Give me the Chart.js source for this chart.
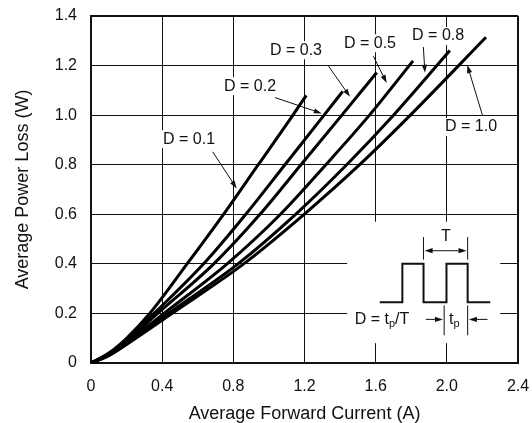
<!DOCTYPE html>
<html>
<head>
<meta charset="utf-8">
<script src="https://cdn.jsdelivr.net/npm/chart.js@4.4.1/dist/chart.umd.min.js"></script>
<style>
  html, body { margin: 0; padding: 0; background: #fff; }
  #wrap { width: 532px; height: 423px; }
</style>
</head>
<body>
<div id="wrap"><canvas id="lossChart" width="532" height="423"></canvas></div>
<script>
// Values (current in A, loss in W)
const dutyLabels = ['D = 0.1', 'D = 0.2', 'D = 0.3', 'D = 0.5', 'D = 0.8', 'D = 1.0'];

const currentD01 = [0, 0.1, 0.2, 0.33, 0.54, 0.745, 0.94, 1.135, 1.21];
const lossD01    = [0, 0.04, 0.1, 0.2, 0.4, 0.6, 0.8, 1.0, 1.08];

const currentD02 = [0, 0.1, 0.2, 0.355, 0.633, 0.87, 1.09, 1.31, 1.415];
const lossD02    = [0, 0.037, 0.093, 0.2, 0.4, 0.6, 0.8, 1.0, 1.096];

const currentD03 = [0, 0.1, 0.2, 0.375, 0.69, 0.95, 1.18, 1.41, 1.606];
const lossD03    = [0, 0.034, 0.088, 0.2, 0.4, 0.6, 0.8, 1.0, 1.172];

const currentD05 = [0, 0.1, 0.2, 0.41, 0.765, 1.065, 1.32, 1.565, 1.81];
const lossD05    = [0, 0.032, 0.082, 0.2, 0.4, 0.6, 0.8, 1.0, 1.219];

const currentD08 = [0, 0.1, 0.2, 0.435, 0.826, 1.15, 1.437, 1.70, 2.017];
const lossD08    = [0, 0.031, 0.078, 0.2, 0.4, 0.6, 0.8, 1.0, 1.261];

const currentD10 = [0, 0.1, 0.2, 0.455, 0.858, 1.198, 1.51, 1.795, 2.22];
const lossD10    = [0, 0.03, 0.075, 0.2, 0.4, 0.6, 0.8, 1.0, 1.314];

const xTickLabels = ['0', '0.4', '0.8', '1.2', '1.6', '2.0', '2.4'];
const yTickLabels = ['0', '0.2', '0.4', '0.6', '0.8', '1.0', '1.2', '1.4'];

const currents = [currentD01, currentD02, currentD03, currentD05, currentD08, currentD10];
const losses = [lossD01, lossD02, lossD03, lossD05, lossD08, lossD10];

const FONT = "'Liberation Sans', Arial, Helvetica, sans-serif";
Chart.defaults.font.family = FONT;
Chart.defaults.color = '#111';

function toPoints(xs, ys) {
  return xs.map((x, i) => ({ x: x, y: ys[i] }));
}

// arrow from (x1,y1) to tip (x2,y2), pixels
function arrow(ctx, x1, y1, x2, y2) {
  const a = Math.atan2(y2 - y1, x2 - x1);
  const len = 8, half = 2.6;
  ctx.beginPath();
  ctx.moveTo(x1, y1);
  ctx.lineTo(x2 - Math.cos(a) * len * 0.8, y2 - Math.sin(a) * len * 0.8);
  ctx.stroke();
  ctx.beginPath();
  ctx.moveTo(x2, y2);
  ctx.lineTo(x2 - Math.cos(a) * len - Math.sin(a) * half, y2 - Math.sin(a) * len + Math.cos(a) * half);
  ctx.lineTo(x2 - Math.cos(a) * len + Math.sin(a) * half, y2 - Math.sin(a) * len - Math.cos(a) * half);
  ctx.closePath();
  ctx.fill();
}

// text with a "p" subscript: parts = [[text, isSub], ...]
function subText(ctx, x, y, parts) {
  let cx = x;
  parts.forEach(p => {
    ctx.font = (p[1] ? '11px ' : '16px ') + FONT;
    ctx.fillText(p[0], cx, p[1] ? y + 5 : y);
    cx += ctx.measureText(p[0]).width;
  });
  return cx;
}

const notesPlugin = {
  id: 'notes',
  beforeDatasetsDraw(chart) {
    const ctx = chart.ctx;
    const px = v => chart.scales.x.getPixelForValue(v);
    const py = v => chart.scales.y.getPixelForValue(v);
    ctx.save();

    // curve labels with leader arrows
    const notes = [
      { cx: 0.551, cy: 0.903, ax: 0.684, ay: 0.852, tx: 0.819, ty: 0.704 },
      { cx: 0.894, cy: 1.117, ax: 1.034, ay: 1.071, tx: 1.297, ty: 1.007 },
      { cx: 1.152, cy: 1.262, ax: 1.334, ay: 1.199, tx: 1.456, ty: 1.074 },
      { cx: 1.568, cy: 1.290, ax: 1.587, ay: 1.238, tx: 1.662, ty: 1.130 },
      { cx: 1.951, cy: 1.319, ax: 1.868, ay: 1.275, tx: 1.877, ty: 1.171 },
      { cx: 2.136, cy: 0.952, ax: 2.200, ay: 1.000, tx: 2.115, ty: 1.202 }
    ];
    ctx.font = '16px ' + FONT;
    ctx.textAlign = 'center';
    ctx.textBaseline = 'middle';
    notes.forEach((n, i) => {
      const w = ctx.measureText(dutyLabels[i]).width;
      ctx.fillStyle = '#fff';
      ctx.fillRect(px(n.cx) - w / 2 - 3, py(n.cy) - 9, w + 6, 18);
      ctx.fillStyle = '#111';
      ctx.fillText(dutyLabels[i], px(n.cx), py(n.cy));
    });
    ctx.strokeStyle = '#111';
    ctx.fillStyle = '#111';
    ctx.lineWidth = 1;
    notes.forEach(n => arrow(ctx, px(n.ax), py(n.ay), px(n.tx), py(n.ty)));

    // pulse-train inset
    ctx.fillStyle = '#fff';
    ctx.fillRect(px(1.44), py(0.57), px(2.30) - px(1.44), py(0.08) - py(0.57));

    ctx.strokeStyle = '#111';
    ctx.fillStyle = '#111';
    ctx.lineWidth = 2;
    const lo = py(0.245), hi = py(0.4);
    ctx.beginPath();
    ctx.moveTo(px(1.623), lo);
    ctx.lineTo(px(1.75), lo); ctx.lineTo(px(1.75), hi);
    ctx.lineTo(px(1.869), hi); ctx.lineTo(px(1.869), lo);
    ctx.lineTo(px(1.998), lo); ctx.lineTo(px(1.998), hi);
    ctx.lineTo(px(2.117), hi); ctx.lineTo(px(2.117), lo);
    ctx.lineTo(px(2.244), lo);
    ctx.stroke();

    // period marker
    ctx.lineWidth = 1;
    [1.869, 2.117].forEach(v => {
      ctx.beginPath();
      ctx.moveTo(px(v), py(0.508));
      ctx.lineTo(px(v), py(0.417));
      ctx.stroke();
    });
    const ym = py(0.453);
    arrow(ctx, px(1.99), ym, px(1.875), ym);
    arrow(ctx, px(1.99), ym, px(2.111), ym);
    ctx.textAlign = 'center';
    ctx.textBaseline = 'middle';
    ctx.font = '16px ' + FONT;
    ctx.fillText('T', px(1.995), py(0.512));

    // pulse width marker
    [1.985, 2.117].forEach(v => {
      ctx.beginPath();
      ctx.moveTo(px(v), py(0.232));
      ctx.lineTo(px(v), py(0.112));
      ctx.stroke();
    });
    const yb = py(0.176);
    arrow(ctx, px(1.882), yb, px(1.978), yb);
    arrow(ctx, px(2.229), yb, px(2.124), yb);
    ctx.textAlign = 'left';
    subText(ctx, px(1.482), yb, [['D = t', false], ['p', true], ['/T', false]]);
    subText(ctx, px(2.012), yb, [['t', false], ['p', true]]);

    ctx.restore();
  }
};

const ctx = document.getElementById('lossChart').getContext('2d');
new Chart(ctx, {
  type: 'line',
  data: {
    datasets: dutyLabels.map((label, i) => ({
      label: label,
      data: toPoints(currents[i], losses[i]),
      borderColor: '#000',
      borderWidth: 3,
      pointRadius: 0,
      fill: false,
      cubicInterpolationMode: 'monotone'
    }))
  },
  options: {
    responsive: false,
    animation: false,
    devicePixelRatio: 1,
    layout: { padding: { top: 16, right: 14, left: 0, bottom: 0 } },
    plugins: {
      legend: { display: false },
      tooltip: { enabled: false }
    },
    scales: {
      x: {
        type: 'linear',
        min: 0,
        max: 2.4,
        afterFit: s => { s.height = 60; s.paddingLeft = 0; s.paddingRight = 0; },
        ticks: {
          stepSize: 0.4,
          padding: 14,
          font: { size: 16 },
          color: '#111',
          maxRotation: 0,
          callback: (v, i) => xTickLabels[i]
        },
        grid: {
          color: '#111',
          lineWidth: c => (c.index === xTickLabels.length - 1 ? 2 : 1),
          drawTicks: false
        },
        border: { color: '#111', width: 2 },
        title: {
          display: true,
          text: 'Average Forward Current (A)',
          font: { size: 18, lineHeight: 1.0 },
          color: '#111',
          padding: { top: 0, bottom: 0 }
        }
      },
      y: {
        min: 0,
        max: 1.4,
        afterFit: s => { s.width = 91; s.paddingTop = 0; s.paddingBottom = 0; },
        ticks: {
          stepSize: 0.2,
          padding: 14,
          font: { size: 16 },
          color: '#111',
          callback: (v, i) => yTickLabels[i]
        },
        grid: {
          color: '#111',
          lineWidth: c => (c.index === yTickLabels.length - 1 ? 2 : 1),
          drawTicks: false
        },
        border: { color: '#111', width: 2 },
        title: {
          display: true,
          text: 'Average Power Loss (W)',
          font: { size: 18 },
          color: '#111',
          padding: { top: 12, bottom: 0 }
        }
      }
    }
  },
  plugins: [notesPlugin]
});
</script>
</body>
</html>
